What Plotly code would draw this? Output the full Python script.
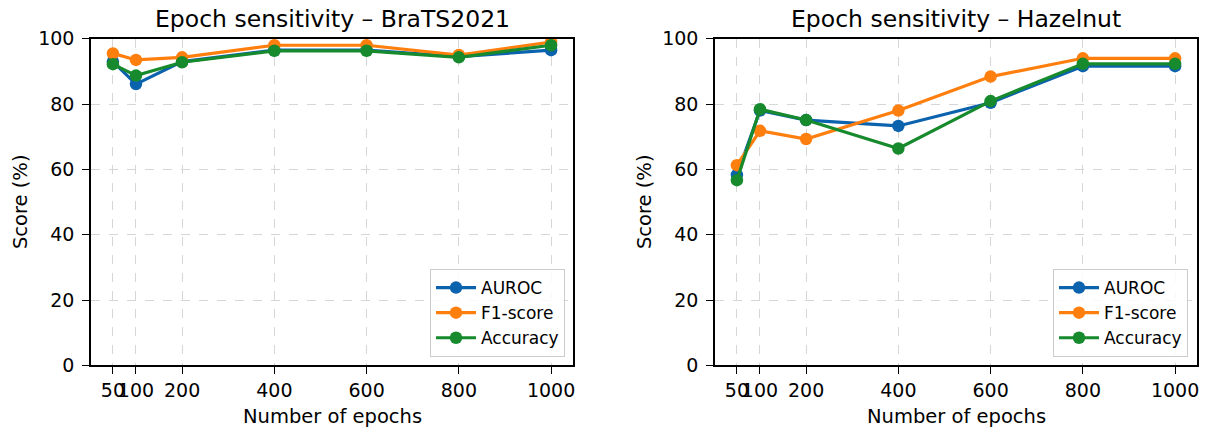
import plotly.graph_objects as go

W, H = 1207, 430

epochs = [50, 100, 200, 400, 600, 800, 1000]
tick_labels = ["50", "100", "200", "400", "600", "800", "1000"]
y_ticks = [0, 20, 40, 60, 80, 100]

brats_auroc = [93.0, 86.1, 93.0, 96.5, 96.5, 94.5, 96.5]
brats_f1 = [95.5, 93.5, 94.3, 98.0, 98.0, 95.0, 99.0]
brats_acc = [92.2, 88.7, 92.8, 96.3, 96.3, 94.3, 98.0]

hazel_auroc = [58.3, 78.0, 75.1, 73.3, 80.4, 91.6, 91.6]
hazel_f1 = [61.3, 71.8, 69.3, 78.0, 88.4, 94.0, 94.0]
hazel_acc = [56.7, 78.4, 75.1, 66.4, 80.9, 92.3, 92.3]

series_names = ["AUROC", "F1-score", "Accuracy"]
colors = ["#0b62ad", "#ff7f0e", "#168a2c"]
titles = ["Epoch sensitivity – BraTS2021", "Epoch sensitivity – Hazelnut"]

FONT = "DejaVu Sans"

fig = go.Figure()

panels = [
    (brats_auroc, brats_f1, brats_acc),
    (hazel_auroc, hazel_f1, hazel_acc),
]
for p, data in enumerate(panels):
    ax = "" if p == 0 else "2"
    for name, vals, col in zip(series_names, data, colors):
        fig.add_trace(go.Scatter(
            x=epochs, y=vals, name=name, mode="lines+markers",
            line=dict(color=col, width=3.2),
            marker=dict(color=col, size=12.5),
            xaxis="x" + ax, yaxis="y" + ax,
            legend="legend" if p == 0 else "legend2",
        ))

# pixel geometry
ax_left = [91, 715]
ax_right = [573, 1197]
y_top, y_bot = 38.7, 365.4

def px_x(v):
    return v / W

def px_y(v):
    return 1 - v / H

xaxis_common = dict(
    range=[2.5, 1047.5], tickvals=epochs, ticktext=tick_labels, tickangle=0,
    showgrid=True, gridcolor="#d6d6d6", griddash="dash", gridwidth=1,
    showline=True, linecolor="black", linewidth=1.5, mirror=True,
    ticks="outside", ticklen=7, tickwidth=1.2, tickcolor="black",
    tickfont=dict(family=FONT, size=19, color="black"),
    zeroline=False, automargin=False, ticklabelstandoff=0,
)
yaxis_common = dict(
    range=[0, 100], tickvals=y_ticks,
    showgrid=True, gridcolor="#d6d6d6", griddash="dash", gridwidth=1,
    showline=True, linecolor="black", linewidth=1.5, mirror=True,
    ticks="outside", ticklen=7, tickwidth=1.2, tickcolor="black",
    tickfont=dict(family=FONT, size=19, color="black"),
    zeroline=False, automargin=False, ticklabelstandoff=4,
    domain=[px_y(y_bot), px_y(y_top)],
)

legend_common = dict(
    font=dict(family=FONT, size=17, color="black"),
    bgcolor="rgba(255,255,255,0.85)", bordercolor="#cccccc", borderwidth=1,
    xanchor="right", yanchor="bottom", tracegroupgap=0, itemwidth=40,
)

fig.update_layout(
    width=W, height=H,
    margin=dict(l=0, r=0, t=0, b=0),
    paper_bgcolor="white", plot_bgcolor="white",
    font=dict(family=FONT, color="black"),
    xaxis=dict(domain=[px_x(ax_left[0]), px_x(ax_right[0])], anchor="y", **xaxis_common),
    yaxis=dict(anchor="x", **yaxis_common),
    xaxis2=dict(domain=[px_x(ax_left[1]), px_x(ax_right[1])], anchor="y2", **xaxis_common),
    yaxis2=dict(anchor="x2", **yaxis_common),
    legend=dict(x=px_x(565), y=px_y(357), **legend_common),
    legend2=dict(x=px_x(1188), y=px_y(357), **legend_common),
)

annotations = []
for p in range(2):
    cx = (ax_left[p] + ax_right[p]) / 2
    annotations.append(dict(
        text=titles[p], x=px_x(cx), y=px_y(19), xref="paper", yref="paper",
        xanchor="center", yanchor="middle", showarrow=False,
        font=dict(family=FONT, size=23.5, color="black"),
    ))
    annotations.append(dict(
        text="Number of epochs", x=px_x(cx), y=px_y(416), xref="paper", yref="paper",
        xanchor="center", yanchor="middle", showarrow=False,
        font=dict(family=FONT, size=19.5, color="black"),
    ))
    annotations.append(dict(
        text="Score (%)", x=px_x(ax_left[p] - 71), y=px_y((y_top + y_bot) / 2),
        xref="paper", yref="paper", xanchor="center", yanchor="middle",
        textangle=-90, showarrow=False,
        font=dict(family=FONT, size=19.5, color="black"),
    ))
fig.update_layout(annotations=annotations)

fig.write_html("out.html")
